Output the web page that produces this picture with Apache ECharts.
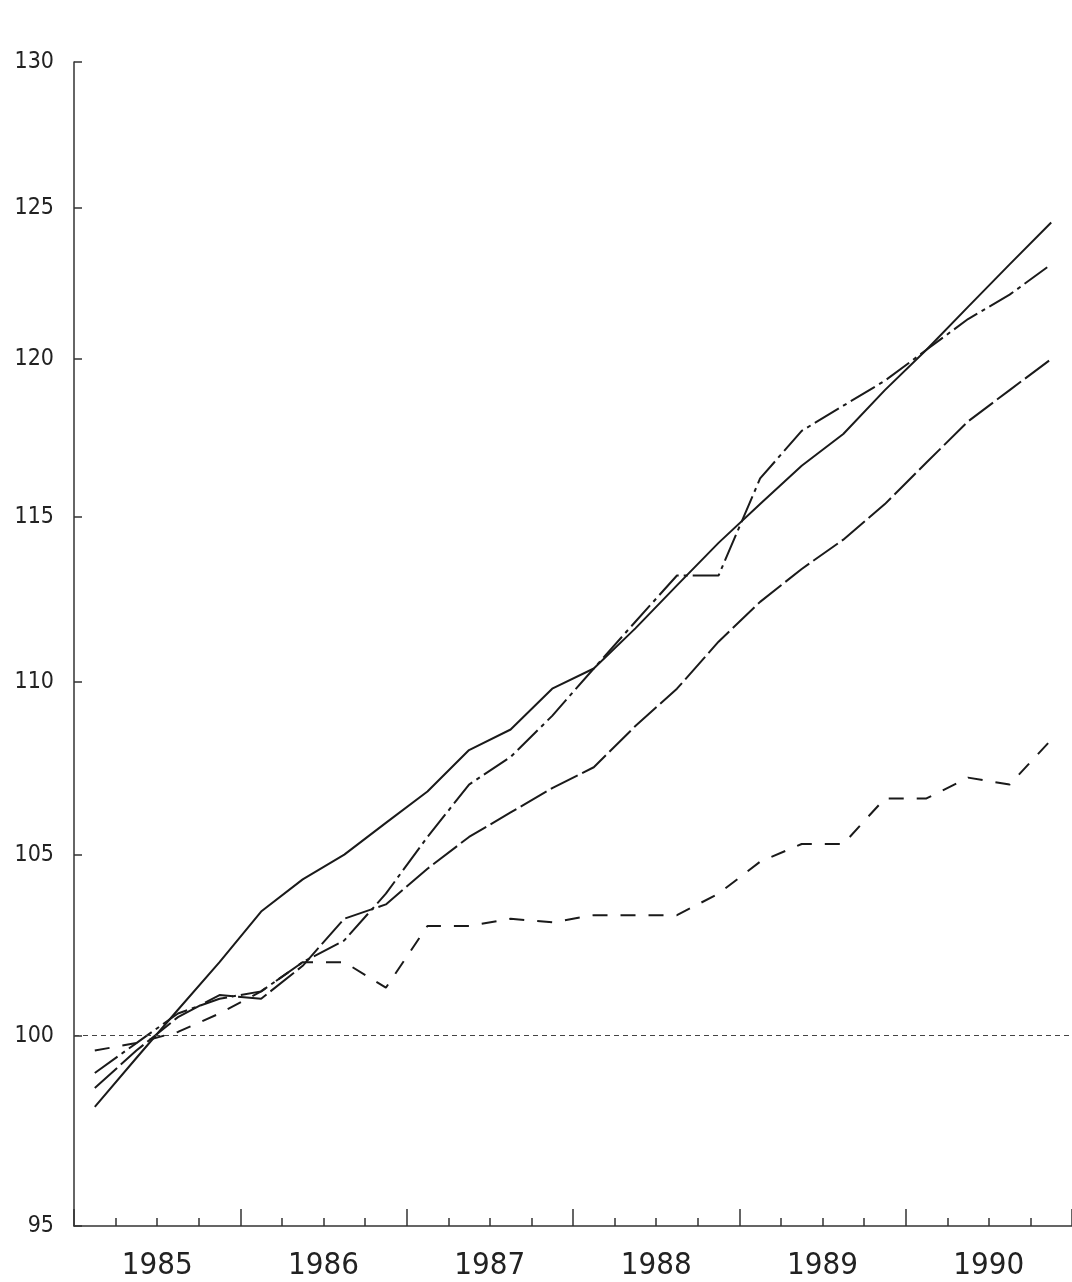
<!DOCTYPE html>
<html>
<head>
<meta charset="utf-8">
<script src="https://cdn.jsdelivr.net/npm/echarts@6/dist/echarts.min.js"></script>
<style>
html,body{margin:0;padding:0;background:#fff}
#main{width:1072px;height:1282px}
</style>
</head>
<body>
<div id="main"></div>
<script>
var quarters = ['1985Q1','1985Q2','1985Q3','1985Q4','1986Q1','1986Q2','1986Q3','1986Q4',
                '1987Q1','1987Q2','1987Q3','1987Q4','1988Q1','1988Q2','1988Q3','1988Q4',
                '1989Q1','1989Q2','1989Q3','1989Q4','1990Q1','1990Q2','1990Q3','1990Q4'];
var years = ['1985','1986','1987','1988','1989','1990'];
var yTicks = [95,100,105,110,115,120,125,130];

var solid     = [98.1, 99.4, 100.7, 102.0, 103.4, 104.3, 105.0, 105.9, 106.8, 108.0, 108.6, 109.8,
                 110.4, 111.6, 112.9, 114.2, 115.4, 116.6, 117.6, 119.0, 120.3, 121.7, 123.1, 124.5];
var dashDot   = [99.0, 99.8, 100.6, 101.0, 101.2, 102.0, 102.6, 103.9, 105.5, 107.0, 107.8, 109.0,
                 110.4, 111.8, 113.2, 113.2, 116.2, 117.7, 118.5, 119.3, 120.3, 121.3, 122.1, 123.1];
var longDash  = [98.6, 99.6, 100.5, 101.1, 101.0, 101.9, 103.2, 103.6, 104.6, 105.5, 106.2, 106.9,
                 107.5, 108.7, 109.8, 111.2, 112.4, 113.4, 114.3, 115.4, 116.7, 118.0, 119.0, 120.0];
var shortDash = [99.6, 99.8, 100.1, 100.6, 101.2, 102.0, 102.0, 101.3, 103.0, 103.0, 103.2, 103.1,
                 103.3, 103.3, 103.3, 103.9, 104.8, 105.3, 105.3, 106.6, 106.6, 107.2, 107.0, 108.3];
var baseLine = 100;

var chart = echarts.init(document.getElementById('main'));
var ink = '#1a1a1a';
var axisInk = '#333';
var labelFont = '"Liberation Sans Narrow", "DejaVu Sans Condensed", sans-serif';

function lineSeries(name, data, type){
  return {
    name: name,
    type: 'line',
    data: data,
    symbol: 'none',
    xAxisIndex: 0,
    lineStyle: {color: ink, width: 2, type: type},
    z: 3
  };
}

var series = [
  lineSeries('solid', solid, 'solid'),
  lineSeries('dashdot', dashDot, [28, 5, 4, 5]),
  lineSeries('longdash', longDash, [30, 5]),
  lineSeries('shortdash', shortDash, [15, 13])
];
// reference level at 100
series[0].markLine = {
  silent: true,
  symbol: 'none',
  label: {show: false},
  lineStyle: {color: '#444', width: 1, type: [5, 4]},
  data: [{yAxis: baseLine}]
};

option = {
  backgroundColor: '#fff',
  animation: false,
  grid: {left: 74, right: 0, top: 62, bottom: 56},
  xAxis: [
    {
      // quarters: carries the data and the short ticks
      type: 'category',
      data: quarters,
      boundaryGap: true,
      axisLine: {show: true, lineStyle: {color: axisInk, width: 1.5}},
      axisTick: {show: true, inside: true, length: 8, interval: 0, lineStyle: {color: axisInk, width: 1.5}},
      axisLabel: {show: true, interval: 0, formatter: function(){ return ''; }},
      splitLine: {show: false}
    },
    {
      // years: long ticks and labels
      type: 'category',
      data: years,
      position: 'bottom',
      boundaryGap: true,
      axisLine: {show: false},
      axisTick: {show: true, inside: true, length: 17, interval: 0, lineStyle: {color: axisInk, width: 1.5}},
      axisLabel: {
        margin: 24,
        fontSize: 31,
        fontFamily: labelFont,
        color: '#222'
      },
      splitLine: {show: false}
    }
  ],
  yAxis: {
    type: 'log',
    logBase: 10,
    min: 95,
    max: 130,
    axisLine: {show: true, lineStyle: {color: axisInk, width: 1.5}},
    axisTick: {show: true, inside: true, length: 8, customValues: yTicks, lineStyle: {color: axisInk, width: 1.5}},
    axisLabel: {
      customValues: yTicks,
      margin: 20,
      fontSize: 23,
      fontFamily: labelFont,
      color: '#222'
    },
    splitLine: {show: false},
    minorTick: {show: false}
  },
  series: series
};

chart.setOption(option);
</script>
</body>
</html>
